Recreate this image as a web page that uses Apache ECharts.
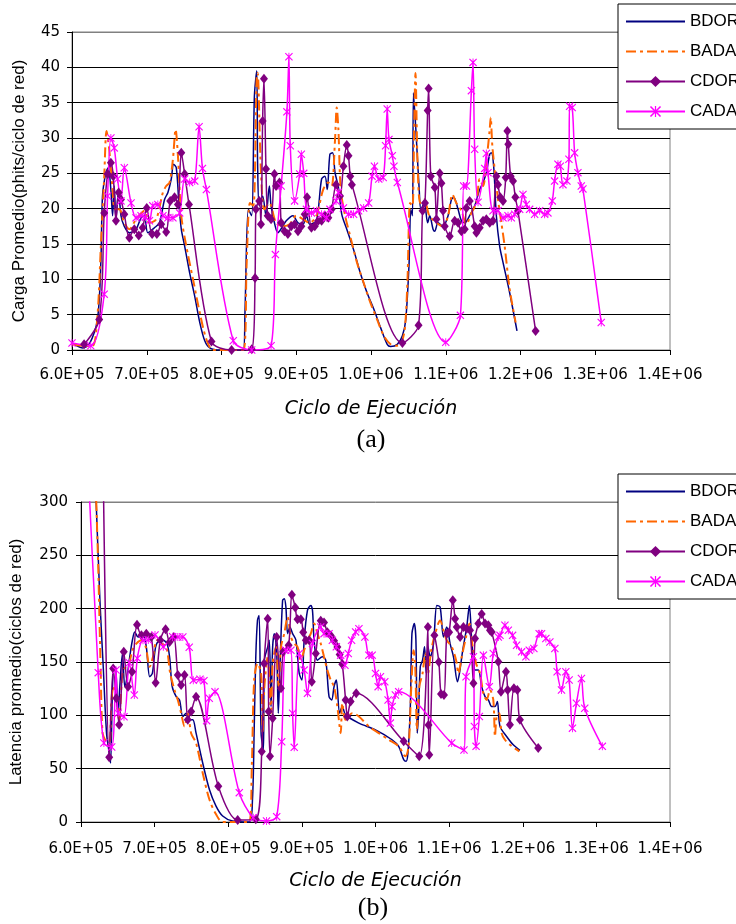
<!DOCTYPE html>
<html><head><meta charset="utf-8">
<script src="https://cdn.jsdelivr.net/npm/echarts@6/dist/echarts.min.js"></script>
<style>html,body{margin:0;padding:0;background:#fff}#c{width:736px;height:924px}</style>
</head><body><div id="c"></div>
<script>
// x values in thousands of cycles
const seriesNames = ['BDOR','BADA','CDOR','CADA'];
const xTickLabels = ['6.0E+05','7.0E+05','8.0E+05','9.0E+05','1.0E+06','1.1E+06','1.2E+06','1.3E+06','1.4E+06'];

// (a) Carga promedio
const loadBDOR = [[600,1.0],[614,0.3],[623,0.8],[634,4.3],[638.6,12.4],[640.8,21.8],[645.3,25.1],[648.5,25.8],[652,22.7],[654.3,19],[656.5,23.2],[658.8,18.5],[662.4,22.7],[665.5,19],[670,17.5],[676.7,16.6],[685.7,17.1],[692.4,18.7],[696.9,19],[701.4,16.6],[710.3,17.3],[717,18],[723.8,21.3],[728.3,22.3],[732.8,24.2],[735.9,26.3],[739.5,25.8],[743,20.8],[746.2,17.1],[750.7,14.7],[757.4,10.9],[764.2,7.6],[770.9,3.9],[777.6,1.3],[784.3,0.3],[797.8,0],[829.2,0],[831.4,5.3],[835.9,19.9],[840.4,19],[844,35.9],[847.1,39.5],[848.3,26.5],[850.5,20.4],[855,21.8],[859.5,19],[864,23.2],[866.3,20.4],[870.8,18],[875.3,16.6],[882,17.5],[886.6,18.3],[895.6,19],[902.3,18],[909,17.8],[913.6,19],[918,17.8],[927,18.3],[933.9,24.2],[938.4,24.6],[941.5,22.7],[945,27.7],[948.7,27.9],[951.9,25.1],[956.4,23],[960.9,19.2],[967.6,17.1],[976.7,14.2],[985.7,10.9],[994.7,8.1],[1003.7,5.8],[1012.7,3.2],[1021.7,0.8],[1026.2,0.5],[1035.2,0.8],[1042,2],[1046.5,4.3],[1051,12.4],[1053.2,19.9],[1055.5,19],[1056.8,36.4],[1060,31.2],[1064.5,22.7],[1066.8,19.9],[1071.3,20.8],[1075.8,18],[1078.6,19],[1083,17.1],[1085.3,16.8],[1089.7,18],[1096.4,17.5],[1103.1,19],[1107.6,21.3],[1110.7,21.6],[1116.5,19.9],[1120.9,18.3],[1125.4,18],[1132,19],[1138.7,20.4],[1145.4,22.7],[1149.9,23.7],[1154.3,25.1],[1158.8,27.7],[1161,27.9],[1164.1,26],[1167.7,19],[1172.1,14.7],[1176.6,12.4],[1185.5,8.1],[1195.3,2.7]];
const loadBADA = [[600,0.8],[614,0.6],[627.4,0.6],[634,4.8],[638.6,14.7],[643,24.2],[646.2,31],[649.8,28.4],[654.3,22.7],[657.4,19.9],[663.3,19.9],[670,18],[676.7,17.1],[685.7,18.5],[696.9,19.7],[703.6,18],[712.6,18.5],[721.6,22.3],[726,23.2],[730.5,23.7],[735,27],[738.6,31.2],[741.7,27.5],[746.2,19],[752.9,14.7],[761.9,10],[770.9,5.3],[779.8,1.5],[788.8,0],[829.2,0],[833.7,12.4],[838.1,20.8],[842.6,20.4],[847.1,38.8],[848.3,39.2],[852.8,25.1],[857.3,19.9],[864,20.8],[873,18],[882,17.5],[891,17.8],[900,19],[909,18.5],[918,18],[927,19],[936,22.7],[942.9,23.7],[947.4,23.2],[951.9,29.8],[954.1,34.3],[956.4,31.2],[959.5,22.7],[965.4,19],[972.2,16.1],[981.2,12.4],[990.2,9.5],[999.2,6.7],[1008.2,4.3],[1017.2,2],[1026.2,0.8],[1033,0.6],[1039.7,0.8],[1045.1,2.9],[1048.7,9.5],[1052.3,20.8],[1055.5,20.4],[1057.7,31.2],[1059.5,39.2],[1062.3,26.5],[1065.9,20.8],[1071.3,21.3],[1078,19],[1087.5,18],[1096.4,17.5],[1103.1,19],[1108.9,22],[1114.2,20.8],[1120.9,19.7],[1127.6,17.8],[1134.3,19.4],[1141,20.8],[1145.4,24.2],[1149.9,23.2],[1155.2,27.5],[1158.8,31.2],[1160.1,32.9],[1162.3,28.9],[1165.4,25.6],[1169.9,21.3],[1174.4,18],[1178.8,14.7],[1185.5,8.6],[1193.5,3.9]];
const loadCDOR = [[616.2,0.8],[636.4,4.3],[643.1,19.4],[647.6,24.9],[652,26.5],[655.2,24.6],[658.8,18.3],[662.4,22.3],[665.5,21.3],[670,19.2],[676.7,15.9],[683.4,17.1],[689.3,16.2],[694.6,17.3],[700,20.1],[707.2,16.4],[713.5,16.4],[719.3,17.8],[726,16.7],[731.4,21.1],[737.2,21.6],[741.7,20.6],[746.2,27.9],[750.7,24.9],[756.5,20.6],[786.6,1.2],[813.5,0],[840.4,0.1],[844.9,10.2],[846,19.9],[850.5,21.1],[852.8,17.8],[855,32.4],[856.8,38.4],[859.5,25.6],[861.8,19],[866.3,18.5],[870.8,24.9],[873,23.2],[877.5,23.7],[879.8,18],[884.3,16.8],[888.8,16.4],[893.3,17.5],[897.8,17.8],[902.3,16.8],[906.8,17.5],[911.3,19.2],[914.5,21.6],[920.3,17.3],[924.8,17.5],[929.4,18.3],[933.9,18.3],[938.4,19],[942.9,18.7],[947.4,19.9],[953.2,23.4],[958.6,21.8],[963.1,26],[967.6,29],[969.9,27.5],[972.2,24.6],[974.4,23.4],[1042,1],[1063.6,3.5],[1069,19.7],[1072.2,20.8],[1075.8,33.9],[1077.1,37],[1080,24.6],[1085.3,23],[1087.5,18.5],[1092,25],[1094.2,23.6],[1096.4,19.7],[1098.6,17.5],[1105.3,16.1],[1112,18.3],[1116.5,18],[1120.9,16.8],[1125.4,17.1],[1127.6,20.1],[1132,21.1],[1138.7,17.5],[1141,16.6],[1145.4,17.3],[1149.9,18.3],[1154.3,18.5],[1158.8,18],[1163.2,18.3],[1167.7,24.6],[1169.9,23.4],[1173,21.6],[1176.6,21.1],[1180.2,24.4],[1182.4,31],[1183.7,29.1],[1186.8,24.6],[1190,23.9],[1193.1,21.6],[1196.6,19.7],[1220.2,2.7]];
const loadCADA = [[600,1.0],[625.1,0.6],[643.1,7.9],[647.6,21.8],[652,30],[656.5,28.6],[661,24.2],[665.5,21.1],[670,25.8],[679,20.8],[685.7,18.7],[692.4,19],[698.2,18.8],[703.6,18.3],[708.1,20.4],[714.8,20.6],[721.6,19],[728.3,18.7],[735,18.7],[744,19.4],[750.7,24.2],[757.4,23.7],[764.2,23.9],[770,31.6],[774.5,25.7],[779.8,22.7],[815.7,1.3],[840.4,0],[866.3,0.6],[872.1,13.5],[879.8,23.2],[887.5,33.7],[890.2,41.5],[892,28.9],[897.8,21.1],[904.6,24.9],[906.8,27.7],[910,25],[913.6,19.9],[920.3,19.4],[927.1,19.7],[933.9,19.2],[940.6,18.7],[945.1,19.9],[953.2,21.1],[956.4,22.3],[963.1,20.1],[969.9,19.2],[976.7,19.2],[983.4,19.7],[990.2,20.1],[996.9,20.8],[1001.4,24.6],[1004.6,26],[1010.4,24.2],[1016.3,24.4],[1019.5,28.9],[1021.7,34.1],[1024,29.8],[1028.5,27.5],[1030.7,26],[1035.2,23.7],[1100,1.1],[1119.6,4.9],[1124,23.2],[1127.6,23.2],[1134.3,36.7],[1136.5,40.7],[1138.7,28.4],[1143.2,20.9],[1152.1,25.7],[1154.3,27.8],[1156.5,25.1],[1163.2,19.7],[1169.9,19.7],[1176.6,18.7],[1183.3,19],[1187.7,18.7],[1192.2,19.2],[1198.9,19.9],[1203.3,22],[1207.8,20.6],[1212.2,19.9],[1218.9,19.2],[1225.6,19.7],[1232.3,19.2],[1236.7,19.4],[1242.5,21.1],[1245.6,23.9],[1250.1,26.3],[1253.2,26],[1256.8,23.4],[1262.1,23.9],[1264.8,27],[1265.7,34.5],[1269.2,34.3],[1272.4,27.9],[1276.8,25.1],[1281.3,23.2],[1283.5,22.8],[1308,3.9]];

// (b) Latencia promedio
const latBDOR = [[618.9,332],[625.7,207.7],[630.2,145.5],[634.7,83.3],[638.3,64.7],[640.1,55.3],[642.8,126.9],[644.6,145.5],[647.3,142.4],[650.5,102],[652.7,126.9],[656.3,158],[659.5,126.9],[662.6,136.2],[666.2,154.9],[669.8,170.4],[673,178.2],[677.5,173.5],[684.2,175.1],[688.7,164.2],[693.3,136.2],[696.9,139.3],[701.4,164.2],[706.8,170.4],[711.3,170.4],[716.7,167.3],[720.3,154.9],[723.9,126.9],[729.3,117.5],[733.8,114.4],[738.3,98.9],[742.8,102],[747.3,95.8],[751.8,95.8],[756.3,83.3],[765.3,55.3],[774.4,30.5],[783.4,14.9],[792.4,5.6],[805.9,0.9],[828.4,0],[832.9,21.1],[835.2,86.4],[837.4,154.9],[839.7,189],[841.9,193.7],[844.6,83.3],[847.7,67.8],[849.1,151.7],[853.6,164.2],[855.8,170.4],[858.1,108.2],[860.3,164.2],[862.6,176.6],[865.7,161.1],[868,102],[870.2,145.5],[873.8,207.7],[876.1,209.3],[878.3,201.5],[880.6,176.6],[883.7,182.8],[887.4,176.6],[891.9,170.4],[896.4,139.3],[900,133.1],[903.1,170.4],[907.6,198.4],[912.1,203],[914.4,198.4],[916.6,170.4],[921.1,151.7],[927.9,154.9],[932.4,151.7],[936.9,117.5],[940.5,114.4],[943.7,126.9],[946.8,133.1],[951.3,102],[954.9,108.2],[959.4,100.4],[977.5,92.7],[1000,86.4],[1022.5,77.1],[1031.5,70.9],[1038.3,58.5],[1041.4,56.9],[1044.1,64.7],[1047.3,108.2],[1049.5,176.6],[1052.7,186],[1054.9,170.4],[1056.7,83.3],[1058.5,102],[1060.8,145.5],[1063.9,151.7],[1066.6,164.2],[1068.9,139.3],[1071.2,164.2],[1074.3,154.9],[1078.8,167.3],[1083.3,203],[1087.8,201.5],[1092.3,173.5],[1096.8,182.8],[1101.3,167.3],[1105.9,154.9],[1111.3,131.5],[1114,139.3],[1118.5,161.1],[1123.9,182.8],[1127.5,203],[1130.7,170.4],[1135.2,142.4],[1139.7,142.4],[1144.2,126.9],[1148.8,117.5],[1153.3,114.4],[1157.8,108.2],[1162.3,108.2],[1165.5,112.9],[1169.1,89.6],[1178.1,80.2],[1187.1,72.4],[1196.2,67.2]];
const latBADA = [[618,360],[623.4,238.8],[626.6,145.5],[629.3,83.3],[633.8,75.6],[638.3,70.9],[641.4,114.4],[643.7,126.9],[648.2,114.4],[651.8,95.8],[656.3,139.3],[660.8,145.5],[665.3,148.6],[669.8,161.1],[675.2,167.3],[682,170.4],[687.9,164.2],[693.3,145.5],[697.8,154.9],[703.2,170.4],[709,167.3],[715.8,164.2],[721.2,139.3],[727,123.8],[731.5,114.4],[736,102],[740.6,89.6],[745.1,102],[749.6,83.3],[756.3,74],[765.3,46],[774.4,21.1],[783.4,7.2],[792.4,0],[828.4,0],[832,52.2],[835.2,133.1],[839.7,148.6],[844.6,139.3],[846.8,83.3],[849.1,126.9],[853.6,154.9],[858.1,102],[860.3,148.6],[864.8,164.2],[868.4,126.9],[871.6,164.2],[876.1,176.6],[880.6,192.2],[885.1,173.5],[889.6,167.3],[894.1,164.2],[898.6,151.7],[903.1,161.1],[907.6,170.4],[912.1,176.6],[916.6,186],[921.1,176.6],[925.6,167.3],[930.1,154.9],[934.6,142.4],[939.2,133.1],[943.7,126.9],[948.2,108.2],[952.7,83.3],[954.9,111.3],[959.4,95.8],[968.4,102],[977.5,98.9],[991,89.6],[1004.5,83.3],[1018,77.1],[1031.5,70.9],[1040.5,61.6],[1045,70.9],[1048.6,126.9],[1051.8,161.1],[1054,145.5],[1056.3,86.4],[1059.5,126.9],[1063.9,139.3],[1067.6,158],[1071.2,139.3],[1075.7,161.1],[1081.1,176.6],[1087.8,189],[1092.3,179.7],[1096.8,170.4],[1103.6,164.2],[1109.5,151.7],[1112.6,139.3],[1117.1,154.9],[1123,173.5],[1127.5,186],[1132,164.2],[1136.6,148.6],[1142,139.3],[1146.5,120.6],[1151,114.4],[1155.5,123.8],[1160,114.4],[1162.3,80.2],[1164.6,98.9],[1168.2,102],[1171.3,83.3],[1175.8,77.1],[1182.6,72.4],[1195.3,66.2]];
const latCDOR = [[630,340],[638.3,60.6],[643.7,144],[648,116],[651.8,91.1],[658.1,159.5],[663.9,126.9],[669.4,140.9],[676.1,185],[682,175.1],[688.7,176.6],[695.5,173.5],[701.4,130.6],[707.7,170.4],[714.9,180.7],[720.3,168.8],[726.1,173.5],[731.5,137.8],[736,128.4],[740.6,137.8],[745,95.8],[749.6,103.5],[756.3,117.5],[786.5,33.6],[812.8,1.9],[837.4,2.5],[845.5,66.2],[848.7,148.6],[853.6,190.6],[854.9,103.5],[856.7,61.6],[860.3,97.3],[865.7,173.5],[871.6,125.3],[874.7,159.5],[882,165.7],[886.4,213],[891,201],[894.1,190],[898.6,190],[901.8,178],[905.4,170.4],[909.9,170.4],[913.5,131.5],[918.9,158],[925.6,188.6],[930.1,187],[934.6,178],[939.2,174.8],[943.7,170],[948.2,164],[951.3,157],[954.9,148],[959.4,114.4],[961.7,99],[966.2,113],[973.8,120.6],[1038.3,75.6],[1059.4,61.6],[1071.2,182.8],[1072,91],[1073,63.1],[1080,175],[1086,150],[1089,120],[1093,119],[1096.8,176.6],[1100,178],[1105,208],[1108.1,190.6],[1110.4,182.8],[1114.9,173.5],[1119.4,182.8],[1123.9,181.2],[1128.4,179.7],[1133,130],[1135.2,172],[1139.7,186],[1144.2,195],[1148.8,186],[1153.3,184.4],[1155.5,179.7],[1157.8,178.2],[1166.8,150.2],[1170.4,122.2],[1177.2,140.9],[1179.5,123.8],[1182.6,91.1],[1188,125.3],[1192.6,123.8],[1196.2,95.8],[1221,69.3]];
const latCADA = [[605,400],[623.4,140],[631.1,74],[641.7,70.3],[647.5,142.5],[650.5,102],[658.4,98.7],[665.6,149.3],[672.4,119],[676.5,153.4],[684.2,170.4],[691.4,170.6],[700.5,175.3],[711.8,164.3],[724.5,173.7],[731.5,173.5],[738.3,173.5],[747,163.8],[752.5,133],[761.6,133.8],[767,132.5],[770.7,95],[774.2,116],[782,122],[815,27.5],[834,4],[852,1],[865.8,5],[872.6,75.3],[878,161],[885.1,161],[887.4,102],[889.6,70],[896.4,158],[903.1,142.4],[907.6,120.6],[914.4,167.3],[925.6,182.8],[930.1,176.6],[936.9,176.6],[941.4,170.4],[946.8,164.2],[952.7,156.4],[958.5,147],[963,158],[967.5,170.4],[973,178.2],[977.5,181.2],[985.6,173.5],[991,156.4],[995.5,156.4],[1000,139.3],[1003.6,126.9],[1006.7,136.2],[1012.6,131.5],[1017.1,114.4],[1020.2,92.7],[1022.5,108.2],[1027,119.1],[1031.5,122.2],[1103.5,74],[1120.2,67.5],[1123,136.2],[1133,154.9],[1134.3,89.6],[1136.6,70.9],[1141.1,98.9],[1146.5,156.4],[1154.6,126.9],[1160,158],[1166.8,173.5],[1169.1,175],[1175.8,184.4],[1180.4,179.7],[1186.2,175],[1191.6,165.7],[1198.4,159.5],[1204.3,154.9],[1208.8,161.1],[1215.1,162.6],[1222.3,176.6],[1225.5,176.6],[1231.4,172],[1236.8,168.8],[1243.6,162.6],[1246.7,140.9],[1252.6,123.8],[1258.5,140.9],[1263,133.1],[1267.5,88],[1272.9,111.3],[1279.7,134.6],[1284.2,106.7],[1308.1,70.9]];

const STAR = 'path://M0,1L1,0L5,4L9,0L10,1L6,5L10,9L9,10L5,6L1,10L0,9L4,5Z M4.45,0L5.55,0L5.55,10L4.45,10Z';
const styles = {
  BDOR: {color:'#000080', symbol:'none', lineStyle:{color:'#000080', width:1.5}},
  BADA: {color:'#FF6600', symbol:'none', lineStyle:{color:'#FF6600', width:2, type:[10,4,3,4]}},
  CDOR: {color:'#800080', symbol:'diamond', symbolSize:[8,10], lineStyle:{color:'#800080', width:1.5}},
  CADA: {color:'#FF00FF', symbol:STAR, symbolSize:8, lineStyle:{color:'#FF00FF', width:1.5}}
};
function mkSeries(name, data, idx){
  const s = styles[name];
  return Object.assign({
    type:'line', name, data, xAxisIndex:idx, yAxisIndex:idx,
    smooth:0.3, showSymbol: s.symbol !== 'none', clip:true,
    itemStyle:{color:s.color}, emphasis:{disabled:true}, z: 2
  }, s);
}
function xAxisCfg(gi, nameGap, margin){
  return {type:'value', gridIndex:gi, min:600, max:1400, interval:100,
    name:'Ciclo de Ejecución', nameLocation:'middle', nameGap,
    nameTextStyle:{fontFamily:'DejaVu Sans', fontStyle:'italic', fontSize:19, color:'#000'},
    axisLine:{show:true, onZero:false, lineStyle:{color:'#000', width:1}},
    axisTick:{show:true, length:5, lineStyle:{color:'#000'}},
    axisLabel:{margin, fontFamily:'DejaVu Sans', fontSize:15, color:'#000',
      formatter: v => xTickLabels[Math.round((v-600)/100)]},
    splitLine:{show:false}};
}
function yAxisCfg(gi, max, interval, name, nameGap, margin, n){
  const cols = []; for (let i=0;i<n;i++) cols.push(i===n-1?'#808080':'#000');
  return {type:'value', gridIndex:gi, min:0, max, interval,
    name, nameLocation:'middle', nameGap, nameRotate:90,
    nameTextStyle:{fontFamily:'Liberation Sans', fontSize:17, color:'#000'},
    axisLine:{show:true, lineStyle:{color:'#000', width:1}},
    axisTick:{show:true, length:5, lineStyle:{color:'#000'}},
    axisLabel:{margin, fontFamily:'DejaVu Sans', fontSize:15, color:'#000'},
    splitLine:{show:true, lineStyle:{color:cols, width:1}}};
}
function legendCfg(top){
  return {data:[
      {name:'BDOR', itemStyle:{opacity:0}},
      {name:'BADA', itemStyle:{opacity:0}},
      {name:'CDOR'}, {name:'CADA'}],
    left:618, top, orient:'vertical', itemWidth:59, itemHeight:14, itemGap:13,
    padding:[9,60,9,7], borderColor:'#000', borderWidth:1, backgroundColor:'#fff', selectedMode:false,
    textStyle:{fontFamily:'Liberation Sans', fontSize:17, color:'#000', lineHeight:14}};
}
const chart = echarts.init(document.getElementById('c'), null, {renderer:'canvas'});
chart.setOption({
  animation:false, backgroundColor:'#fff',
  grid:[
    {left:72, top:32, width:598, height:318, show:true, borderColor:'#808080', borderWidth:1},
    {left:81, top:502, width:589, height:320, show:true, borderColor:'#808080', borderWidth:1}
  ],
  xAxis:[xAxisCfg(0, 50, 18), xAxisCfg(1, 50, 20)],
  yAxis:[
    yAxisCfg(0, 45, 5, 'Carga Promedio(phits/ciclo de red)', 44, 12, 10),
    yAxisCfg(1, 300, 50, 'Latencia promedio(ciclos de red)', 56, 13, 7)
  ],
  legend:[legendCfg(4), legendCfg(474)],
  graphic:[
    {type:'text', x:371, y:440, style:{text:'(a)', font:'26px "Liberation Serif"', fill:'#000', align:'center', verticalAlign:'middle', textAlign:'center', textVerticalAlign:'middle'}},
    {type:'text', x:373, y:908, style:{text:'(b)', font:'26px "Liberation Serif"', fill:'#000', align:'center', verticalAlign:'middle', textAlign:'center', textVerticalAlign:'middle'}}
  ],
  series:[
    mkSeries('BDOR', loadBDOR, 0), mkSeries('BADA', loadBADA, 0), mkSeries('CDOR', loadCDOR, 0), mkSeries('CADA', loadCADA, 0),
    mkSeries('BDOR', latBDOR, 1), mkSeries('BADA', latBADA, 1), mkSeries('CDOR', latCDOR, 1), mkSeries('CADA', latCADA, 1)
  ]
});
</script></body></html>
